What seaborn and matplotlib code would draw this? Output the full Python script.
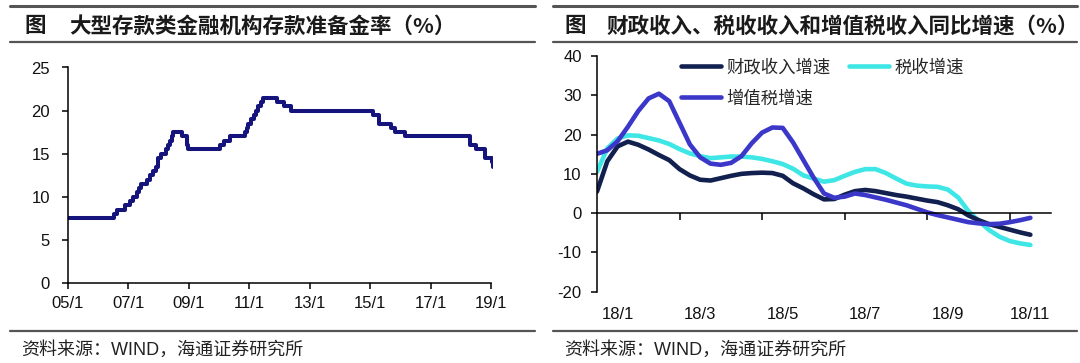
import matplotlib
matplotlib.use('Agg')
import matplotlib.pyplot as plt
import matplotlib.lines as mlines
import matplotlib.dates as mdates
import seaborn as sns
import pandas as pd

# left panel: reserve requirement ratio of large institutions (date of change, level after it)
rrr_dates = ['2005-01-01', '2006-07-05', '2006-08-15', '2006-11-15', '2007-01-15', '2007-02-25',
             '2007-04-16', '2007-05-15', '2007-06-05', '2007-08-15', '2007-09-25', '2007-10-25',
             '2007-11-26', '2007-12-25', '2008-01-25', '2008-03-25', '2008-04-25', '2008-05-20',
             '2008-06-15', '2008-06-25', '2008-10-15', '2008-12-05', '2008-12-25', '2010-01-18',
             '2010-02-25', '2010-05-10', '2010-11-16', '2010-11-29', '2010-12-20', '2011-01-20',
             '2011-02-24', '2011-03-25', '2011-04-21', '2011-05-18', '2011-06-20', '2011-12-05',
             '2012-02-24', '2012-05-18', '2015-02-05', '2015-04-20', '2015-09-06', '2015-10-24',
             '2016-03-01', '2018-04-25', '2018-07-05', '2018-10-15', '2019-01-15', '2019-01-25']
rrr_values = [7.5, 8.0, 8.5, 9.0, 9.5, 10.0,
              10.5, 11.0, 11.5, 12.0, 12.5, 13.0,
              13.5, 14.5, 15.0, 15.5, 16.0, 16.5,
              17.0, 17.5, 17.0, 16.0, 15.5, 16.0,
              16.5, 17.0, 17.5, 18.0, 18.5, 19.0,
              19.5, 20.0, 20.5, 21.0, 21.5, 21.0,
              20.5, 20.0, 19.5, 18.5, 18.0, 17.5,
              17.0, 16.0, 15.5, 14.5, 14.0, 13.5]
left_ticks = ['2005-01-01', '2007-01-01', '2009-01-01', '2011-01-01',
              '2013-01-01', '2015-01-01', '2017-01-01', '2019-01-01']
left_tick_labels = ['05/1', '07/1', '09/1', '11/1', '13/1', '15/1', '17/1', '19/1']

# right panel: growth rates 2018, x in months from the start of the axis
months = [0, 0.25, 0.5, 0.75, 1, 1.25, 1.5, 1.75, 2, 2.25, 2.5, 2.75, 3, 3.25, 3.5,
          3.75, 4, 4.25, 4.5, 4.75, 5, 5.25, 5.5, 5.75, 6, 6.25, 6.5, 6.75, 7, 7.25,
          7.5, 7.75, 8, 8.25, 8.5, 8.75, 9, 9.25, 9.5, 9.75, 10, 10.25, 10.5]
fiscal = [5.5, 13.2, 17.0, 18.2, 17.4, 16.2, 14.8, 13.5, 11.2, 9.6, 8.5, 8.3, 8.9, 9.5, 10.0,
          10.2, 10.3, 10.2, 9.5, 7.6, 6.3, 4.8, 3.5, 3.6, 4.7, 5.6, 5.9, 5.6, 5.1, 4.6,
          4.2, 3.7, 3.2, 2.8, 2.0, 1.0, -0.6, -1.8, -2.8, -3.5, -4.2, -4.9, -5.5]
tax = [10.5, 16.5, 19.0, 19.8, 19.7, 19.1, 18.5, 17.6, 16.3, 15.2, 14.5, 14.0, 14.2, 14.4, 14.4,
       14.2, 13.8, 13.2, 12.5, 11.3, 9.6, 8.8, 8.0, 8.4, 9.5, 10.5, 11.2, 11.2, 10.2, 8.8,
       7.5, 7.0, 6.8, 6.7, 6.0, 4.0, 0.5, -2.0, -4.3, -6.0, -7.1, -7.7, -8.1]
vat = [15.1, 16.0, 18.3, 22.0, 26.0, 29.2, 30.4, 28.5, 23.0, 17.5, 14.2, 12.6, 12.3, 12.8, 14.5,
       17.8, 20.5, 21.8, 21.7, 18.0, 13.5, 9.0, 5.0, 3.9, 4.2, 5.0, 4.6, 4.0, 3.4, 2.7,
       2.0, 1.1, 0.2, -0.5, -1.1, -1.7, -2.3, -2.6, -2.8, -2.7, -2.3, -1.8, -1.2]
right_tick_pos = [0.5, 2.5, 4.5, 6.5, 8.5, 10.5]
right_tick_labels = ['18/1', '18/3', '18/5', '18/7', '18/9', '18/11']
series_names = ['财政收入增速', '税收增速', '增值税增速']

W, H = 1080, 363
sns.set_theme(style='white')
plt.rcParams['font.family'] = ['Liberation Sans', 'Noto Sans CJK SC']
plt.rcParams['axes.unicode_minus'] = False
CJK = ['Noto Sans CJK SC', 'DejaVu Sans']


def fx(px):
    return px / W


def fy(py):
    return 1 - py / H


def rule(fig, x0, x1, y, lw=1.8):
    fig.add_artist(mlines.Line2D([fx(x0), fx(x1)], [fy(y), fy(y)], color='#555555', lw=lw,
                                 transform=fig.transFigure))


def style_axes(ax):
    sns.despine(ax=ax)
    for s in ['left', 'bottom']:
        ax.spines[s].set_color('black')
        ax.spines[s].set_linewidth(1.1)
    ax.tick_params(axis='both', direction='out', length=4, width=1.1, color='black',
                   labelsize=12, labelcolor='#111111', left=True, bottom=True)
    ax.grid(False)
    ax.set_xlabel('')
    ax.set_ylabel('')


fig = plt.figure(figsize=(W / 100, H / 100), dpi=100)

# ---- left chart
ax1 = fig.add_axes([fx(68), fy(283), fx(493) - fx(68), fy(67.5) - fy(283)])
rrr = pd.DataFrame({'date': pd.to_datetime(rrr_dates), 'rrr': rrr_values})
sns.lineplot(data=rrr, x='date', y='rrr', ax=ax1, color='#14147c', lw=2.9,
             drawstyle='steps-post')
ax1.set_xlim(pd.Timestamp('2005-01-01'), pd.Timestamp('2019-01-25'))
ax1.set_ylim(0, 25)
ax1.set_yticks([0, 5, 10, 15, 20, 25])
ax1.set_xticks(pd.to_datetime(left_ticks), left_tick_labels)
style_axes(ax1)
ax1.spines['bottom'].set_bounds(mdates.date2num(pd.Timestamp('2005-01-01')),
                                mdates.date2num(pd.Timestamp('2019-01-01')))
ax1.tick_params(axis='y', pad=9)
ax1.tick_params(axis='x', pad=5)

# ---- right chart
ax2 = fig.add_axes([fx(597), fy(291.7), fx(1051) - fx(597), fy(56) - fy(291.7)])
colors = ['#12204f', '#3fe6e6', '#3b37c9']
sns.lineplot(x=months, y=tax, ax=ax2, color=colors[1], lw=3.3, label=series_names[1])
sns.lineplot(x=months, y=fiscal, ax=ax2, color=colors[0], lw=3.3, label=series_names[0])
sns.lineplot(x=months, y=vat, ax=ax2, color=colors[2], lw=3.3, label=series_names[2])
ax2.set_xlim(0, 11)
ax2.set_ylim(-20, 40)
ax2.set_yticks([-20, -10, 0, 10, 20, 30, 40])
ax2.set_xticks([2, 4, 6, 8, 10], [])
style_axes(ax2)
ax2.spines['bottom'].set_position(('data', 0))
ax2.tick_params(axis='y', pad=7)
ax2.tick_params(axis='x', length=5)
sec = ax2.secondary_xaxis('bottom')
sec.set_xticks(right_tick_pos, right_tick_labels)
sec.tick_params(length=0, pad=11, labelsize=12, labelcolor='#111111')
sec.spines['bottom'].set_visible(False)

handles, labels = ax2.get_legend_handles_labels()
order = [labels.index(n) for n in ['财政收入增速', '增值税增速', '税收增速']]
ax2.legend([handles[i] for i in order], [labels[i] for i in order], ncol=2,
           loc='upper left', bbox_to_anchor=((681 - 597) / 454, 0.99),
           frameon=False, prop={'family': CJK, 'size': 12.5}, handlelength=2.3,
           handletextpad=0.3, columnspacing=1.1, labelspacing=0.75, borderpad=0,
           borderaxespad=0)

# ---- headers and footers
for x0, x1 in [(10, 535), (553, 1077)]:
    rule(fig, x0, x1, 6, lw=2.2)
    rule(fig, x0, x1, 42, lw=1.6)
    rule(fig, x0, x1, 331, lw=1.6)

title_kw = dict(family=CJK, fontsize=15.5, weight='bold', va='center', color='#1a1a1a')
fig.text(fx(24), fy(26), '图', **title_kw)
fig.text(fx(69), fy(26), '大型存款类金融机构存款准备金率（%）', **title_kw)
fig.text(fx(564), fy(26), '图', **title_kw)
fig.text(fx(606), fy(26), '财政收入、税收收入和增值税收入同比增速（%）', **title_kw)
fig.text(fx(21), fy(350), '资料来源：WIND，海通证券研究所', fontsize=13, va='center',
         color='#222222')
fig.text(fx(564), fy(350), '资料来源：WIND，海通证券研究所', fontsize=13, va='center',
         color='#222222')

fig.savefig('out.png', dpi=100)
